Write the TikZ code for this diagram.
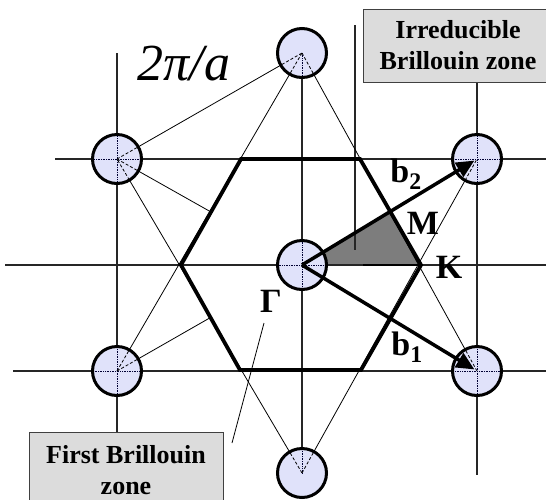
\documentclass[tikz,border=0pt]{standalone}
\usepackage{fontspec}
\setmainfont{Liberation Serif}
\usetikzlibrary{arrows.meta,calc}
\definecolor{atomfill}{RGB}{224,226,250}
\definecolor{boxfill}{RGB}{220,220,220}
\definecolor{ibzgray}{RGB}{125,125,125}
\begin{document}
\begin{tikzpicture}[x=1pt,y=-1pt,
  atom/.style={circle,draw=black,line width=3pt,fill=atomfill,minimum size=49pt,inner sep=0pt},
  gridline/.style={line width=1.1pt,draw=black!85},
  thinline/.style={line width=0.8pt,draw=black},
  bzline/.style={line width=3.8pt,line join=miter},
  vec/.style={line width=3.5pt,-{Triangle[length=18pt,width=16pt]},shorten >=3pt},
  lbl/.style={font=\fontsize{34}{34}\selectfont\bfseries,inner sep=0pt},
  note/.style={draw=black!75,line width=1pt,fill=boxfill,font=\fontsize{26}{31}\selectfont\bfseries,align=center,inner sep=0pt}]
\useasboundingbox (0,0) rectangle (546,499);

% lattice points
\coordinate (T) at (302,53);
\coordinate (UL) at (117,159);
\coordinate (UR) at (477,159);
\coordinate (C) at (302,265);
\coordinate (LL) at (117,371);
\coordinate (LR) at (477,371);
\coordinate (B) at (302,473);
% hexagon vertices
\coordinate (K) at (421,265);
\coordinate (H1) at (360,159);
\coordinate (H2) at (241,159);
\coordinate (H3) at (181,265);
\coordinate (H4) at (240,370);
\coordinate (H5) at (361,370);
\coordinate (M) at ($(H1)!0.5!(K)$);
\coordinate (E1) at ($(H2)!0.5!(H3)$);
\coordinate (E2) at ($(H3)!0.5!(H4)$);

% irreducible zone
\fill[ibzgray] (C) -- (M) -- (K) -- cycle;

% grid lines
\draw[gridline] (55,159) -- (546,159);
\draw[gridline] (5,265) -- (546,265);
\draw[gridline] (13,371) -- (546,371);
\draw[gridline] (117,53) -- (117,432);
\draw[gridline] (T) -- (B);
\draw[gridline] (477,82) -- (477,475);
\draw[gridline] (355,25) -- (355,250);

% thin construction lines
\draw[thinline] (T) -- (LL);
\draw[thinline] (T) -- (LR);
\draw[thinline] (B) -- (UL);
\draw[thinline] (B) -- (UR);
\draw[thinline] (UL) -- (T);
\draw[thinline] (UL) -- (E1);
\draw[thinline] (LL) -- (E2);

% first Brillouin zone
\draw[bzline] (K) -- (H1) -- (H2) -- (H3) -- (H4) -- (H5) -- cycle;
\draw[line width=2pt] (363,265) -- (K);

% atoms
\foreach \p in {T,UL,UR,C,LL,LR,B}
  \node[atom] (a\p) at (\p) {};

% inner dotted/dashed parts
\begin{scope}
  \clip (T) circle (23) (UL) circle (23) (UR) circle (23) (C) circle (23)
        (LL) circle (23) (LR) circle (23) (B) circle (23);
  \draw[line width=0.7pt,densely dotted,draw=black!80!blue] (55,159) -- (546,159)
     (5,265) -- (546,265) (13,371) -- (546,371) (117,53) -- (117,432)
     (T) -- (B) (477,82) -- (477,475);
  \draw[line width=0.8pt,dash pattern=on 3pt off 2pt] (T) -- (LL) (T) -- (LR)
     (B) -- (UL) (B) -- (UR) (UL) -- (E1) (LL) -- (E2) (UL) -- (T);
\end{scope}

% reciprocal lattice vectors
\draw[vec] (C) -- (aUR.center);
\draw[vec] (C) -- (aLR.center);

% labels
\node[lbl] (lb2) at (406,174) {b\textsubscript{2}};
\node[lbl] (lb1) at (407,347) {b\textsubscript{1}};
\node[lbl] (lM) at (423,223) {M};
\node[lbl] (lK) at (449,267) {K};
\node[lbl] (lG) at (271,301) {Γ};
\node[inner sep=0pt,font=\fontsize{52}{52}\selectfont\itshape] (lscale) at (184,64) {2π/a};

% annotation boxes
\node[note,minimum width=190pt,minimum height=73pt] (ibz) at (458,45.5) {Irreducible\\Brillouin zone};
\node[note,minimum width=194pt,minimum height=76pt] (fbz) at (126,470) {First Brillouin\\zone};
\coordinate (fbzptr) at (232,443);
\coordinate (fbztip) at (264,323);
\draw[thinline] (fbzptr) -- (fbztip);
\end{tikzpicture}
\end{document}
